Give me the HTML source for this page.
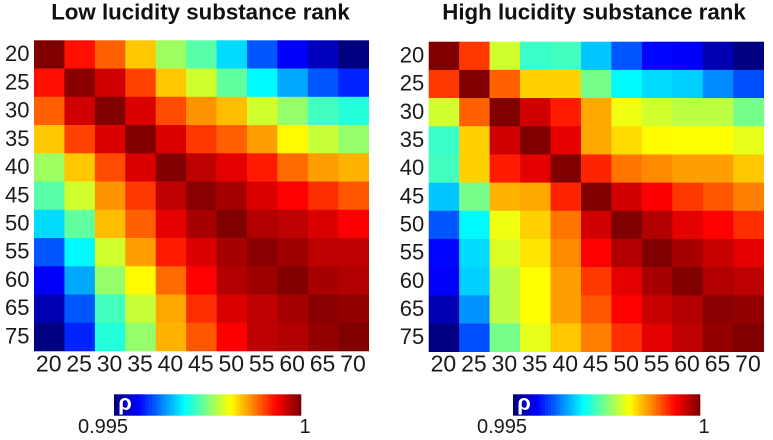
<!DOCTYPE html>
<html lang="en">
<head>
<meta charset="utf-8">
<title>Lucidity substance rank correlation</title>
<style>
html,body{margin:0;padding:0;background:#fff;}
svg{display:block;fill:#1a1a1a;}
text{font-family:"Liberation Sans",Arial,sans-serif;}
</style>
</head>
<body>
<svg id="chart" width="773" height="440" viewBox="0 0 773 440" xmlns="http://www.w3.org/2000/svg"></svg>
<script>
const xTickLabels = ['20','25','30','35','40','45','50','55','60','65','70'];
const yTickLabels = ['20','25','30','35','40','45','50','55','60','65','75'];
const rhoMin = 0.995;
const rhoMax = 1;
const colorbarLabels = ['0.995','1'];

const lowLucidityRho = [
  [1.0000,.9993,.9989,.9984,.99765,.9973,.9967,.99605,.9956,.9953,.9950],
  [.9993,.99995,.9996,.99905,.9984,.9979,.99735,.99685,.99645,.99605,.9958],
  [.9989,.9996,1.0000,.99955,.9990,.99865,.99845,.9979,.9976,.9972,.99705],
  [.9984,.99905,.99955,1.0000,.99955,.9991,.9989,.9986,.99815,.99785,.9976],
  [.99765,.9984,.9990,.99955,1.0000,.9997,.9995,.99925,.99885,.9986,.9985],
  [.9973,.9979,.99865,.9991,.9997,.99995,.9998,.99955,.99938,.99915,.99895],
  [.9967,.99735,.99845,.9989,.9995,.9998,1.0000,.99975,.9997,.99955,.9994],
  [.99605,.99685,.9979,.9986,.99925,.99955,.9998,.99995,.99985,.9997,.9997],
  [.9956,.99645,.9976,.99815,.99885,.99938,.99975,.99985,1.0000,.9998,.99975],
  [.99525,.99605,.9972,.99785,.99855,.99915,.99955,.9997,.9998,.99995,.9999],
  [.9950,.9958,.99705,.9976,.9985,.99895,.9994,.9997,.99975,.9999,1.0000]
];
const highLucidityRho = [
  [1.0000,.9991,.9979,.99715,.9972,.9966,.99605,.99565,.9956,.99525,.9950],
  [.9991,1.0000,.9989,.99835,.99835,.99745,.99685,.9967,.99665,.9963,.9960],
  [.9979,.9989,1.0000,.9996,.99925,.99855,.99805,.9979,.9978,.9978,.99745],
  [.99715,.99835,.9996,1.0000,.9995,.99855,.9983,.99815,.99813,.99813,.9980],
  [.9972,.99835,.99925,.9995,1.0000,.9992,.9988,.9987,.9986,.9986,.9984],
  [.9966,.99745,.9985,.99855,.9992,1.0000,.9996,.9994,.9991,.99895,.99875],
  [.99605,.99685,.99805,.99835,.9988,.9996,1.0000,.99975,.9995,.99938,.99915],
  [.99565,.9967,.99795,.99825,.9987,.99938,.99975,1.0000,.9998,.99965,.9995],
  [.9956,.99665,.9978,.99813,.9986,.9991,.9995,.9998,1.0000,.99975,.9997],
  [.99525,.99635,.9978,.99813,.9986,.99895,.99938,.99965,.99975,.99995,.9999],
  [.9950,.9960,.99745,.9980,.9984,.99875,.99915,.9995,.9997,.9999,1.0000]
];

const svg = document.getElementById('chart');
const NS = 'http://www.w3.org/2000/svg';

function make(tag, attrs, parent, txt) {
  const el = document.createElementNS(NS, tag);
  for (const k in attrs) el.setAttribute(k, attrs[k]);
  if (txt !== undefined) el.textContent = txt;
  parent.appendChild(el);
  return el;
}
function ramp(x) { return Math.max(0, Math.min(1, x)); }
function jet(t) {
  const r = ramp(1.5 - Math.abs(4 * t - 3));
  const g = ramp(1.5 - Math.abs(4 * t - 2));
  const b = ramp(1.5 - Math.abs(4 * t - 1));
  return 'rgb(' + Math.round(r * 255) + ',' + Math.round(g * 255) + ',' + Math.round(b * 255) + ')';
}
function norm(v) { return (v - rhoMin) / (rhoMax - rhoMin); }

function drawPanel(cfg) {
  const g = make('g', {}, svg);
  
  

  const title = make('text', {x: cfg.titleX, y: 19.5, 'text-anchor': 'middle', 'font-size': 22.3, 'font-weight': 'bold', fill: '#111'}, g, cfg.title);
  
  

  const w = (cfg.x1 - cfg.x0) / xTickLabels.length;
  const h = (cfg.y1 - cfg.y0) / yTickLabels.length;
  const xScale = i => cfg.x0 + i * w;
  const yScale = j => cfg.y0 + j * h;

  cfg.values.forEach((row, j) => {
    row.forEach((v, i) => {
      const cell = make('rect', {x: xScale(i), y: yScale(j), width: w + 0.3, height: h + 0.3, fill: jet(norm(v))}, g);
      
      
    });
  });

  xTickLabels.forEach((label, i) => {
    const t = make('text', {x: xScale(i) + w / 2 - 0.5, y: 371.5, 'text-anchor': 'middle', 'font-size': 23}, g, label);
    
    
  });
  yTickLabels.forEach((label, j) => {
    const t = make('text', {x: cfg.x0 - 4.5, y: yScale(j) + h / 2 + 6.6, 'text-anchor': 'end', 'font-size': 22}, g, label);
    
    
  });

  const cb = make('g', {}, g);
  
  
  const levels = 64;
  const cw = (cfg.cbX1 - cfg.cbX0) / levels;
  for (let k = 0; k < levels; k++) {
    const seg = make('rect', {x: cfg.cbX0 + k * cw, y: 394.3, width: cw + 0.3, height: 21.4, fill: jet(k / (levels - 1))}, cb);
    
    
  }
  const rho = make('text', {x: cfg.cbX0 + 11, y: 410, 'text-anchor': 'middle', 'font-size': 22, 'font-weight': 'bold', fill: '#fff'}, cb, 'ρ');
  
  
  const lo = make('text', {x: cfg.cbX0 - 11, y: 433, 'text-anchor': 'middle', 'font-size': 20}, cb, colorbarLabels[0]);
  
  
  const hi = make('text', {x: cfg.cbX1 + 4, y: 433, 'text-anchor': 'middle', 'font-size': 20}, cb, colorbarLabels[1]);
  
  
}

drawPanel({name: 'low-lucidity-panel', title: 'Low lucidity substance rank', titleX: 200.5, values: lowLucidityRho,
  x0: 34, x1: 368.7, y0: 40.3, y1: 351, cbX0: 114, cbX1: 301});
drawPanel({name: 'high-lucidity-panel', title: 'High lucidity substance rank', titleX: 594, values: highLucidityRho,
  x0: 428.7, x1: 763.7, y0: 41.7, y1: 351.7, cbX0: 513, cbX1: 700});
</script>
</body>
</html>
